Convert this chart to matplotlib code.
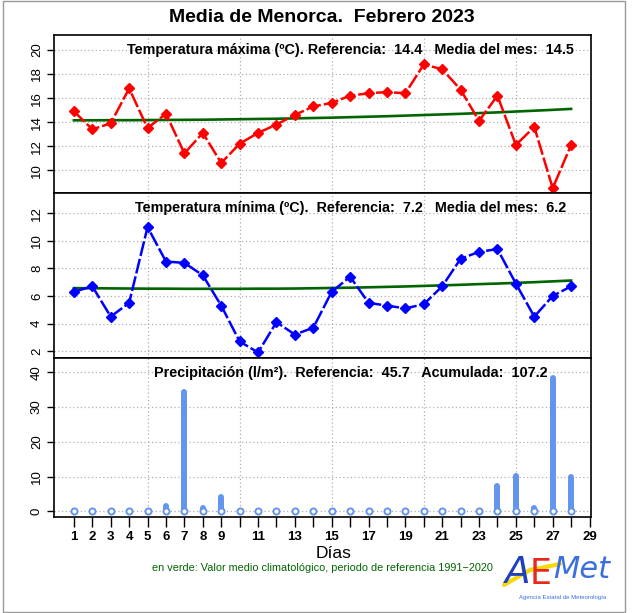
import matplotlib
matplotlib.use("Agg")
import matplotlib.pyplot as plt
from matplotlib.lines import Line2D
from matplotlib.patches import Rectangle

plt.rcParams['font.family'] = ['Liberation Sans', 'DejaVu Sans']

days = list(range(1, 29))
tmax = [14.9, 13.4, 13.9, 16.8, 13.5, 14.7, 11.4, 13.1, 10.6, 12.2, 13.1, 13.8, 14.6, 15.3,
        15.6, 16.2, 16.4, 16.5, 16.4, 18.8, 18.4, 16.7, 14.1, 16.2, 12.1, 13.6, 8.5, 12.1]
tmax_clim = [14.15, 14.15, 14.16, 14.16, 14.17, 14.18, 14.19, 14.20, 14.22, 14.24, 14.26, 14.28,
             14.31, 14.34, 14.37, 14.41, 14.45, 14.49, 14.54, 14.59, 14.64, 14.69, 14.75, 14.81,
             14.88, 14.95, 15.02, 15.10]
tmin = [6.3, 6.7, 4.5, 5.5, 11.0, 8.5, 8.4, 7.5, 5.3, 2.7, 1.9, 4.1, 3.2, 3.7,
        6.3, 7.4, 5.5, 5.3, 5.1, 5.4, 6.7, 8.7, 9.2, 9.4, 6.9, 4.5, 6.0, 6.7]
tmin_clim = [6.57, 6.56, 6.55, 6.54, 6.53, 6.53, 6.52, 6.52, 6.52, 6.52, 6.53, 6.53, 6.54, 6.56,
             6.58, 6.60, 6.63, 6.66, 6.69, 6.73, 6.77, 6.81, 6.86, 6.90, 6.95, 7.00, 7.06, 7.12]
precip = [0, 0, 0, 0, 0, 1.6, 34.2, 0.8, 4.2, 0, 0, 0, 0, 0,
          0, 0, 0, 0, 0, 0, 0, 0, 0, 7.2, 10.2, 0.8, 38.4, 9.8]

xticks = list(range(1, 30))
xticklabels = ['1', '2', '3', '4', '5', '6', '7', '8', '9', '', '11', '', '13', '', '15', '',
               '17', '', '19', '', '21', '', '23', '', '25', '', '27', '', '29']
yt1 = [10, 12, 14, 16, 18, 20]
yt2 = [2, 4, 6, 8, 10, 12]
yt3 = [0, 10, 20, 30, 40]

title = "Media de Menorca.  Febrero 2023"
t1 = "Temperatura máxima (ºC). Referencia:  14.4   Media del mes:  14.5"
t2 = "Temperatura mínima (ºC).  Referencia:  7.2   Media del mes:  6.2"
t3 = "Precipitación (l/m²).  Referencia:  45.7   Acumulada:  107.2"

W, H = 634, 613
fig = plt.figure(figsize=(W / 100, H / 100), dpi=100)


def rect(top, bottom, left=54, right=591):
    return [left / W, 1 - bottom / H, (right - left) / W, (bottom - top) / H]


ax1 = fig.add_axes(rect(35, 193))
ax2 = fig.add_axes(rect(193, 358))
ax3 = fig.add_axes(rect(358, 517))

xlim = (-0.08, 29.08)
for ax, yt, ylim in [(ax1, yt1, (8.1, 21.25)), (ax2, yt2, (1.5, 13.47)), (ax3, yt3, (-1.65, 44.1))]:
    ax.set_xlim(*xlim)
    ax.set_ylim(*ylim)
    ax.set_yticks(yt)
    ax.set_yticklabels([str(v) for v in yt], rotation=90, va='center', fontsize=9.5)
    for v in [5, 10, 15, 20, 25]:
        ax.axvline(v, color='#b0b0b0', lw=0.9, ls=(0, (1, 2)), zorder=0)
    for v in yt:
        ax.axhline(v, color='#b0b0b0', lw=0.9, ls=(0, (1, 2)), zorder=0)
    for s in ax.spines.values():
        s.set_linewidth(1.2)
    ax.tick_params(axis='y', length=5, width=1, pad=3)

for ax in (ax1, ax2):
    ax.set_xticks([])

ax3.set_xticks(xticks)
ax3.set_xticklabels(xticklabels, fontweight='bold', fontsize=9.5)
ax3.tick_params(axis='x', length=7, width=1, pad=3)

# Tmax
ax1.plot(days, tmax_clim, color='#006400', lw=1.9, zorder=2)
ax1.plot(days, tmax, color='red', lw=1.8, ls=(0, (6, 1.2)), marker='D', ms=5, zorder=3)
ax1.text(0.552, 0.95, t1, transform=ax1.transAxes, ha='center', va='top',
         fontsize=10.4, fontweight='bold', zorder=5)

# Tmin
ax2.plot(days, tmin_clim, color='#006400', lw=1.9, zorder=2)
ax2.plot(days, tmin, color='blue', lw=1.8, ls=(0, (6, 1.2)), marker='D', ms=5, zorder=3)
ax2.text(0.552, 0.95, t2, transform=ax2.transAxes, ha='center', va='top',
         fontsize=10.4, fontweight='bold', zorder=5)

# Precip
pc = '#6495ED'
for d, p in zip(days, precip):
    if p > 0:
        ax3.plot([d, d], [0, p], color=pc, lw=4.3, solid_capstyle='round', zorder=3)
ax3.plot(days, [0] * len(days), ls='none', marker='o', ms=4.4, mfc='white', mec=pc, mew=1.4, zorder=4)
ax3.text(0.552, 0.95, t3, transform=ax3.transAxes, ha='center', va='top',
         fontsize=10.4, fontweight='bold', zorder=5)

fig.text(322 / W, 1 - 18 / H, title, ha='center', va='center', fontsize=14, fontweight='bold')
fig.text(334 / W, 1 - 553 / H, "Días", ha='center', va='center', fontsize=12.5)
fig.text(322 / W, 1 - 568 / H, "en verde: Valor medio climatológico, periodo de referencia 1991\u22122020",
         ha='center', va='center', fontsize=7.8, color='#006400')

# AEMet logo approximation
fig.add_artist(Line2D([504 / W, 530 / W, 560 / W], [1 - 585 / H, 1 - 570 / H, 1 - 564 / H],
                      color='#f5d90a', lw=3, solid_capstyle='round'))
fig.text(518 / W, 1 - 573 / H, "A", ha='center', va='center', fontsize=27, style='italic',
         color='#1f3fbf', family='DejaVu Sans')
fig.text(541 / W, 1 - 574 / H, "E", ha='center', va='center', fontsize=25,
         color='#e8281e', family='DejaVu Sans')
fig.text(582 / W, 1 - 570 / H, "Met", ha='center', va='center', fontsize=22, style='italic',
         color='#3a6fe0', family='DejaVu Sans')
fig.text(563 / W, 1 - 597 / H, "Agencia Estatal de Meteorología", ha='center', va='center',
         fontsize=4.3, color='#3a6fe0')

# outer frame
fig.add_artist(Rectangle((3 / W, 1 / H), 622 / W, 611 / H, transform=fig.transFigure,
                         fill=False, ec='#999999', lw=1.0))

fig.savefig("out.png", dpi=100, facecolor='white')
